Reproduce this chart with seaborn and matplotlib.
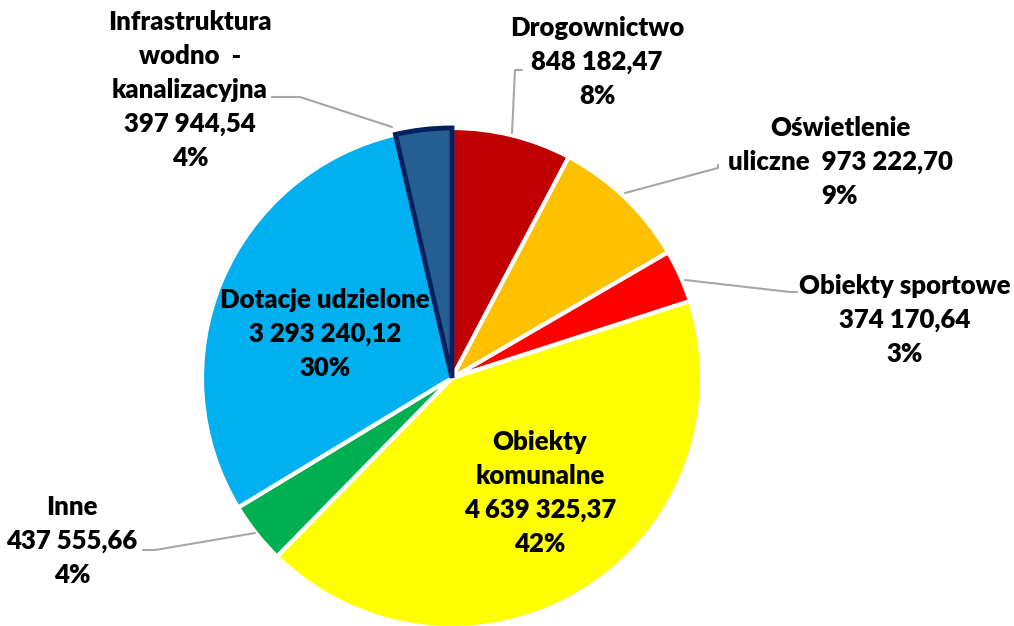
import numpy as np
import matplotlib
matplotlib.use("Agg")
import matplotlib.pyplot as plt
import seaborn as sns

# dane
categories = ["Drogownictwo", "Oświetlenie uliczne", "Obiekty sportowe", "Obiekty komunalne",
              "Inne", "Dotacje udzielone", "Infrastruktura wodno - kanalizacyjna"]
values = [848182.47, 973222.70, 374170.64, 4639325.37, 437555.66, 3293240.12, 397944.54]
value_labels = ["848 182,47", "973 222,70", "374 170,64", "4 639 325,37",
                "437 555,66", "3 293 240,12", "397 944,54"]
colors = ["#C00000", "#FFC000", "#FF0000", "#FFFF00", "#00B050", "#00B0F0", "#255E91"]

sns.set_theme(style="white")
plt.rcParams["font.family"] = ["Lato", "DejaVu Sans"]

W, H = 1014, 626
fig = plt.figure(figsize=(W / 100, H / 100), dpi=100)
ax = fig.add_axes([0, 0, 1, 1])

explode = [0, 0, 0, 0, 0, 0, 0.03]
wedges, _ = ax.pie(values, colors=colors, startangle=90, counterclock=False,
                   center=(452, H - 378), radius=250, explode=explode,
                   wedgeprops=dict(edgecolor="white", linewidth=3))
wedges[-1].set_edgecolor("#002060")
wedges[-1].set_linewidth(3.5)
wedges[-1].set_zorder(3)

total = sum(values)
pct = [f"{round(v / total * 100):.0f}%" for v in values]

fs = 18.5
def label(x, y, lines):
    ax.text(x, H - y, "\n".join(lines), ha="center", va="center", fontsize=fs,
            fontweight="heavy", color="black", linespacing=1.5)

label(190, 90, ["Infrastruktura", "wodno  -", "kanalizacyjna", value_labels[6], pct[6]])
label(597, 62, ["Drogownictwo", value_labels[0], pct[0]])
label(840, 162, ["Oświetlenie", "uliczne  " + value_labels[1], pct[1]])
label(905, 320, ["Obiekty sportowe", value_labels[2], pct[2]])
label(540, 493, ["Obiekty", "komunalne", value_labels[3], pct[3]])
label(72, 541, ["Inne", value_labels[4], pct[4]])
label(325, 334, ["Dotacje udzielone", value_labels[5], pct[5]])

# linie odniesienia
lc = "#A6A6A6"
leaders = [
    [(272, 97), (300, 97), (392, 127)],
    [(522, 70), (515, 70), (512, 133)],
    [(718, 165), (718, 168), (625, 193)],
    [(797, 292), (790, 292), (685, 280)],
    [(143, 550), (155, 550), (255, 533)],
]
for pts in leaders:
    xs = [p[0] for p in pts]
    ys = [H - p[1] for p in pts]
    ax.plot(xs, ys, color=lc, lw=1.5, zorder=1)

ax.set_xlim(0, W)
ax.set_ylim(0, H)
ax.set_aspect("equal")
ax.axis("off")

fig.savefig("out.png", dpi=100)
